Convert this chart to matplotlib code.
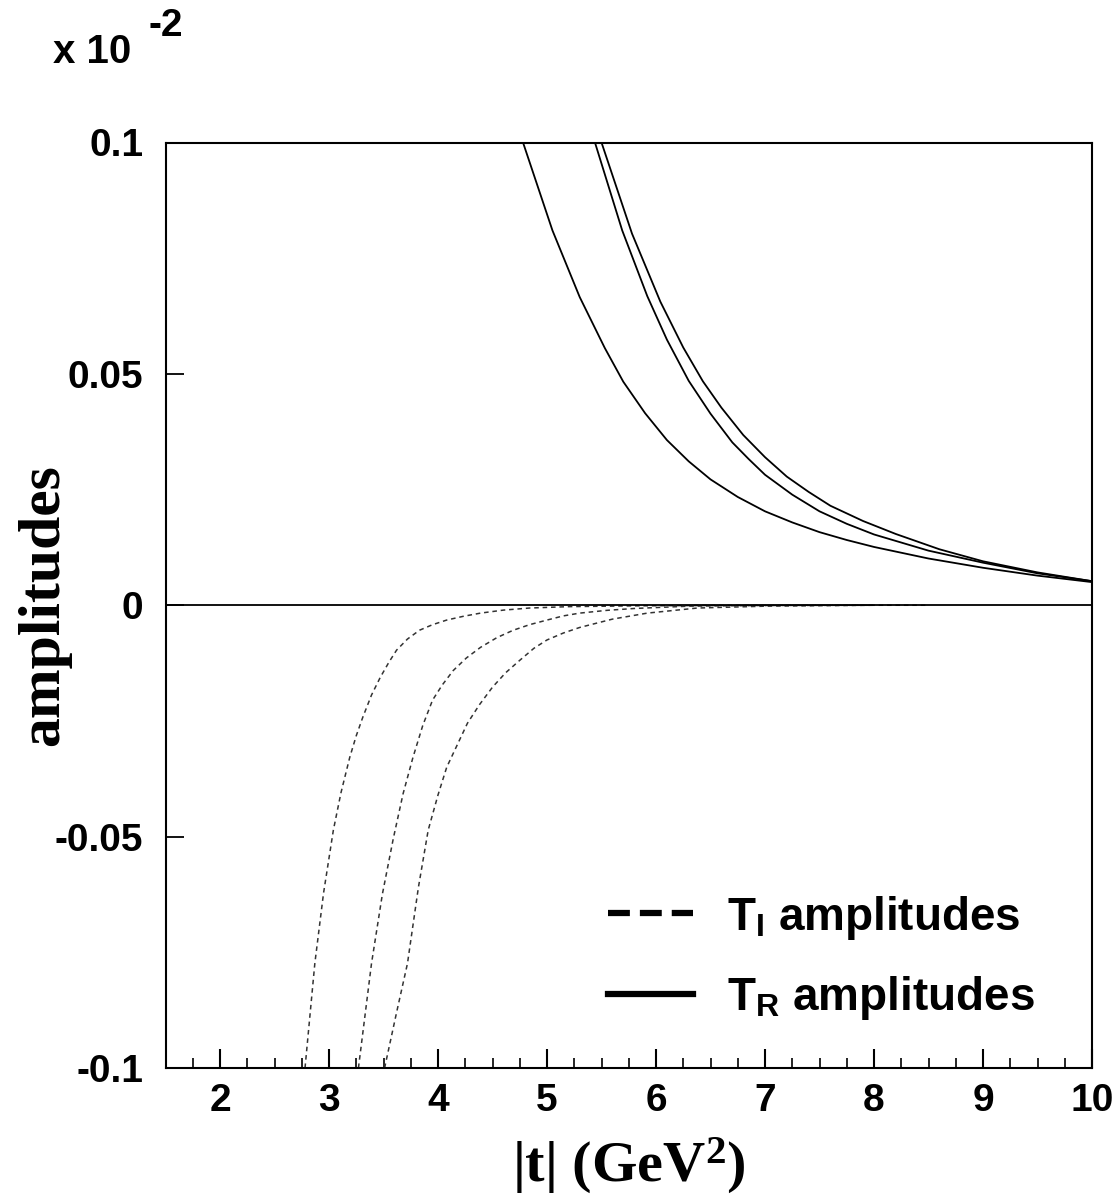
import matplotlib
matplotlib.use("Agg")
import matplotlib.pyplot as plt
from matplotlib.lines import Line2D
from matplotlib.ticker import MultipleLocator

# ---- data ----
tr1_t = [4.78, 5.05, 5.30, 5.53, 5.70, 5.90, 6.10, 6.30, 6.50, 6.75, 7.00, 7.25, 7.50, 7.75,
         8.00, 8.50, 9.00, 9.50, 10.0]
tr1_v = [0.100, 0.081, 0.0666, 0.0556, 0.0483, 0.0415, 0.0357, 0.0311, 0.0272, 0.0234, 0.0203,
         0.0179, 0.0158, 0.0141, 0.0126, 0.0101, 0.0081, 0.0064, 0.0050]

tr2_t = [5.44, 5.69, 5.92, 6.10, 6.30, 6.50, 6.70, 6.85, 7.00, 7.25, 7.50, 7.75, 8.00, 8.50,
         9.00, 9.50, 10.0]
tr2_v = [0.100, 0.081, 0.0668, 0.0574, 0.0485, 0.0414, 0.0352, 0.0316, 0.0282, 0.0239, 0.0203,
         0.0176, 0.0153, 0.0118, 0.0092, 0.0069, 0.0052]

tr3_t = [5.50, 5.78, 6.04, 6.25, 6.43, 6.60, 6.80, 7.00, 7.20, 7.40, 7.60, 7.90, 8.20, 8.60,
         9.00, 9.50, 10.0]
tr3_v = [0.100, 0.0803, 0.0656, 0.0557, 0.0484, 0.0427, 0.0368, 0.0320, 0.0278, 0.0245, 0.0215,
         0.0182, 0.0154, 0.0121, 0.0095, 0.0071, 0.0052]

ti1_t = [2.78, 2.87, 2.95, 3.04, 3.11, 3.19, 3.25, 3.31, 3.39, 3.47, 3.55, 3.62, 3.72, 3.83,
         3.95, 4.08, 4.23, 4.39, 4.60, 4.84, 5.20, 5.80, 6.50, 7.50, 8.50]
ti1_v = [-0.1, -0.0774, -0.0622, -0.0486, -0.0405, -0.0329, -0.0282, -0.0242, -0.0194, -0.0156,
         -0.0123, -0.0097, -0.0073, -0.0054, -0.0042, -0.0032, -0.0024, -0.0017, -0.00105,
         -0.0006, -0.0003, -0.00013, -0.00005, 0.0, 0.0]

ti2_t = [3.27, 3.39, 3.49, 3.59, 3.68, 3.77, 3.86, 3.95, 4.04, 4.14, 4.26, 4.39, 4.54, 4.69,
         4.84, 5.00, 5.15, 5.30, 5.55, 5.80, 6.30, 7.00, 8.00]
ti2_v = [-0.1, -0.0774, -0.0624, -0.0504, -0.0407, -0.0329, -0.0260, -0.0205, -0.0172, -0.0141,
         -0.0114, -0.0091, -0.0070, -0.0054, -0.0042, -0.0032, -0.0023, -0.0017, -0.0011,
         -0.0007, -0.0002, -0.00005, 0.0]

ti3_t = [3.51, 3.62, 3.72, 3.82, 3.91, 4.00, 4.08, 4.18, 4.27, 4.38, 4.50, 4.62, 4.75, 4.88,
         5.00, 5.15, 5.30, 5.60, 5.92, 6.38, 7.00, 8.00]
ti3_v = [-0.1, -0.088, -0.0774, -0.061, -0.0486, -0.041, -0.0350, -0.0300, -0.0255, -0.0215,
         -0.0177, -0.0146, -0.0119, -0.0093, -0.0075, -0.0060, -0.0048, -0.0030, -0.0017,
         -0.0006, -0.0002, 0.0]

x_ticks = [2, 3, 4, 5, 6, 7, 8, 9, 10]
y_ticks = [-0.1, -0.05, 0, 0.05, 0.1]
y_ticklabels = ["-0.1", "-0.05", "0", "0.05", "0.1"]
legend_labels = [r"T$_\mathsf{I}$ amplitudes", r"T$_\mathsf{R}$ amplitudes"]

plt.rcParams['mathtext.fontset'] = 'custom'
plt.rcParams['mathtext.rm'] = 'Liberation Serif:bold'
plt.rcParams['mathtext.it'] = 'Liberation Serif:bold'
plt.rcParams['mathtext.bf'] = 'Liberation Serif:bold'
plt.rcParams['mathtext.sf'] = 'Liberation Sans:bold'

fig = plt.figure(figsize=(11.2, 12.02), dpi=100)
ax = fig.add_axes([165.5 / 1120, 1 - 1068 / 1202, (1092 - 165.5) / 1120, (1068 - 142.5) / 1202])

for t, v in [(tr1_t, tr1_v), (tr2_t, tr2_v), (tr3_t, tr3_v)]:
    ax.plot(t, v, color='black', lw=1.3)
for t, v in [(ti1_t, ti1_v), (ti2_t, ti2_v), (ti3_t, ti3_v)]:
    ax.plot(t, v, color='#333333', lw=1.1, dashes=(3, 2.5))

ax.axhline(0, color='black', lw=1.3)

ax.set_xlim(1.5, 10)
ax.set_ylim(-0.1, 0.1)

ax.set_xticks(x_ticks)
ax.set_xticklabels([str(v) for v in x_ticks])
ax.xaxis.set_minor_locator(MultipleLocator(0.25))
ax.set_yticks(y_ticks)
ax.set_yticklabels(y_ticklabels)

ax.tick_params(axis='x', which='major', direction='in', length=14, width=1.5, pad=11,
               top=False, bottom=True)
ax.tick_params(axis='x', which='minor', direction='in', length=7, width=1.2,
               top=False, bottom=True)
ax.tick_params(axis='y', which='major', direction='in', length=13, width=1.3, pad=16,
               left=True, right=False)
for lab in ax.get_xticklabels() + ax.get_yticklabels():
    lab.set_fontfamily('Liberation Sans')
    lab.set_fontweight('bold')
    lab.set_fontsize(28)

for s in ax.spines.values():
    s.set_linewidth(1.5)

ax.set_xlabel(r"|t| (GeV$^\mathrm{2}$)", fontfamily='Liberation Serif', fontweight='bold',
              fontsize=42)
ax.set_ylabel("amplitudes", fontfamily='Liberation Serif', fontweight='bold', fontsize=43)
ax.yaxis.set_label_coords((71 - 165.5) / 926.5, 0.5)
ax.xaxis.set_label_coords(0.5, (1068 - 1136) / 925.5)

fig.text(53 / 1120, 1 - 52 / 1202, "x 10", fontfamily='Liberation Sans', fontweight='bold',
         fontsize=29, va='center', ha='left')
fig.text(148 / 1120, 1 - 26 / 1202, "-2", fontfamily='Liberation Sans', fontweight='bold',
         fontsize=28, va='center', ha='left')

handles = [Line2D([], [], color='black', lw=4.5, dashes=(3.5, 1.6)),
           Line2D([], [], color='black', lw=4.5)]
leg = ax.legend(handles, legend_labels, loc='center left',
                bbox_to_anchor=((608 - 165.5) / 926.5, (1068 - 958) / 925.5),
                frameon=False, handlelength=1.86, handletextpad=0.74, labelspacing=0.72,
                borderpad=0, borderaxespad=0,
                prop={'family': 'Liberation Sans', 'weight': 'bold', 'size': 33})

fig.savefig("out.png", dpi=100)
